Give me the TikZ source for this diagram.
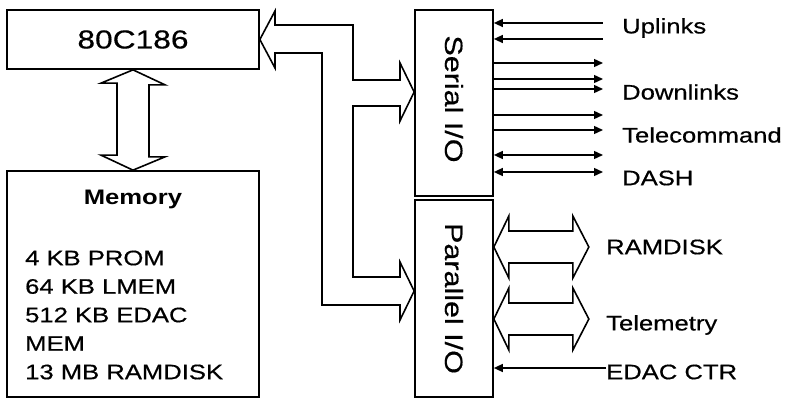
\documentclass[tikz,border=0pt]{standalone}
\usepackage{fontspec}
\setmainfont{Liberation Sans}[FakeStretch=1.22, UprightFeatures={FakeBold=0.5}]
\usetikzlibrary{positioning, calc, arrows.meta}
\tikzset{
  blockbox/.style={draw, line width=1.7pt, inner sep=0pt},
  fatbus/.style={draw, line width=1.6pt, line join=miter, fill=white},
  sigline/.style={line width=1.4pt},
  portlabel/.style={anchor=west, inner sep=0pt, font=\fontsize{21}{24}\selectfont}
}

\begin{document}
\begin{tikzpicture}[x=1pt, y=-1pt, >={Triangle[length=9pt,width=8pt]}]
  \useasboundingbox (0,0) rectangle (787,398);
  % blocks
  \node[blockbox, minimum width=252pt, minimum height=59pt, font=\fontsize{26}{30}\selectfont] (cpu) at (133,39.5) {80C186};
  \node[blockbox, minimum width=252pt, minimum height=226pt] (mem) at (133,284) {};
  \node[font=\bfseries\fontsize{21}{24}\selectfont] (memtitle) at ($(mem.north)+(0,29)$) {Memory};
  \node[anchor=west, align=left, inner sep=0pt, font=\fontsize{21}{28.5}\selectfont] (memlist) at (25,315)
    {4 KB PROM\\64 KB LMEM\\512 KB EDAC\\MEM\\13 MB RAMDISK};
  \node[blockbox, minimum width=78pt, minimum height=186pt] (ser) at (454,103) {};
  \node[rotate=-90, font=\fontsize{25}{30}\selectfont] (sertxt) at ($(ser.center)+(0,-4)$) {Serial I/O};
  \node[blockbox, minimum width=78pt, minimum height=197pt] (par) at (454,298.5) {};
  \node[rotate=-90, font=\fontsize{25}{30}\selectfont] (partxt) at (par.center) {Parallel I/O};
  % cpu <-> memory
  \draw[fatbus] (cpu.south) -- ++(32,15) -- ++(-16,0) -- ++(0,72) -- ++(16,0) -- (mem.north)
    -- ++(-32,-15) -- ++(16,0) -- ++(0,-72) -- ++(-16,0) -- cycle;
  % bus to the I/O blocks
  \draw[fatbus] (cpu.east) -- (275,11) -- (275,25) -- (353,25) -- (353,80) -- (400,80) -- (400,63)
    -- (ser.west |- 0,92) -- (400,121) -- (400,106) -- (353,106) -- (353,277) -- (400,277) -- (400,262)
    -- (par.west |- 0,291) -- (400,320) -- (400,305) -- (322,305) -- (322,53) -- (275,53) -- (275,68) -- cycle;
  % labels
  \node[portlabel] (uplinks) at (622,28) {Uplinks};
  \node[portlabel] (downlinks) at (622,92) {Downlinks};
  \node[portlabel] (telecmd) at (622,135) {Telecommand};
  \node[portlabel] (dash) at (622,178) {DASH};
  \node[portlabel] (ramdisk) at (606,247) {RAMDISK};
  \node[portlabel] (telemetry) at (606,325) {Telemetry};
  \node[portlabel] (edac) at (606,372) {EDAC CTR};
  % serial lines
  \foreach \y in {23,39}
    \draw[sigline, <-] (ser.east |- 0,\y) -- (603,\y);
  \foreach \y in {63,79,89,115,130}
    \draw[sigline, ->] (ser.east |- 0,\y) -- (603,\y);
  \foreach \y in {155,172}
    \draw[sigline, <->] (ser.east |- 0,\y) -- (603,\y);
  % parallel ports
  \foreach \y in {247,319}
    \draw[fatbus] (par.east |- 0,\y) -- ++(15,-31) -- ++(0,15) -- ++(64,0) -- ++(0,-15) -- ++(16,31)
      -- ++(-16,31) -- ++(0,-15) -- ++(-64,0) -- ++(0,15) -- cycle;
  \draw[sigline, ->] ($(edac.west)+(0,-4)$) -- (par.east |- 0,368);
\end{tikzpicture}
\end{document}
